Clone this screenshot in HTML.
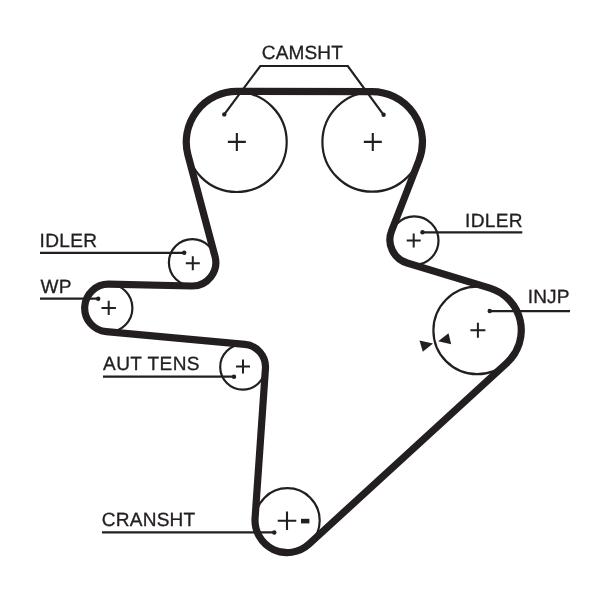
<!DOCTYPE html>
<html><head><meta charset="utf-8"><title>Timing belt diagram</title>
<style>
html,body{margin:0;padding:0;background:#fff;}
body{width:600px;height:589px;position:relative;overflow:hidden;font-family:"Liberation Sans",sans-serif;}
</style></head><body>
<svg width="600" height="589" viewBox="0 0 600 589" style="position:absolute;left:0;top:0;will-change:transform;filter:blur(0.3px);text-rendering:geometricPrecision;font-family:'Liberation Sans',sans-serif">
<circle cx="236.70" cy="142.00" r="50.00" fill="#fff" stroke="#231f20" stroke-width="2.20"/>
<circle cx="372.20" cy="141.90" r="49.80" fill="#fff" stroke="#231f20" stroke-width="2.20"/>
<circle cx="414.30" cy="240.60" r="24.20" fill="#fff" stroke="#231f20" stroke-width="2.20"/>
<circle cx="477.20" cy="330.40" r="43.80" fill="#fff" stroke="#231f20" stroke-width="2.20"/>
<circle cx="287.40" cy="520.50" r="32.30" fill="#fff" stroke="#231f20" stroke-width="2.20"/>
<circle cx="242.80" cy="367.00" r="22.60" fill="#fff" stroke="#231f20" stroke-width="2.20"/>
<circle cx="108.40" cy="308.00" r="24.00" fill="#fff" stroke="#231f20" stroke-width="2.20"/>
<circle cx="192.30" cy="262.50" r="23.40" fill="#fff" stroke="#231f20" stroke-width="2.20"/>
<path d="M236.84 91.45 L372.04 91.55 A50.45 50.45 0 0 1 419.03 160.27 L391.55 231.00 A24.30 24.30 0 0 0 407.17 263.06 L489.96 288.09 A44.10 44.10 0 0 1 506.98 362.83 L308.94 544.15 A32.20 32.20 0 0 1 255.08 518.17 L265.45 368.57 A22.70 22.70 0 0 0 244.87 344.39 L106.23 331.70 A23.80 23.80 0 0 1 108.91 284.21 L191.79 285.99 A23.50 23.50 0 0 0 215.01 256.44 L187.96 155.03 A50.55 50.55 0 0 1 236.84 91.45 Z" fill="none" stroke="#231f20" stroke-width="7.20" stroke-linejoin="round"/>
<path d="M227.85 141.90 H245.85 M236.85 132.90 V150.90" stroke="#231f20" stroke-width="2.10" fill="none"/>
<path d="M363.80 141.90 H381.80 M372.80 132.90 V150.90" stroke="#231f20" stroke-width="2.10" fill="none"/>
<path d="M406.70 240.50 H420.70 M413.70 233.50 V247.50" stroke="#231f20" stroke-width="2.00" fill="none"/>
<path d="M470.40 330.20 H485.40 M477.90 322.70 V337.70" stroke="#231f20" stroke-width="2.00" fill="none"/>
<path d="M277.75 520.70 H296.25 M287.00 511.45 V529.95" stroke="#231f20" stroke-width="2.10" fill="none"/>
<path d="M236.00 366.50 H250.00 M243.00 359.50 V373.50" stroke="#231f20" stroke-width="2.00" fill="none"/>
<path d="M101.50 307.90 H115.90 M108.70 300.70 V315.10" stroke="#231f20" stroke-width="2.00" fill="none"/>
<path d="M185.80 263.20 H199.80 M192.80 256.20 V270.20" stroke="#231f20" stroke-width="2.00" fill="none"/>
<rect x="301" y="518.8" width="8.4" height="4.6" fill="#231f20"/>
<polyline points="224.30,114.40 260.30,66.00 347.80,66.00 383.60,114.80" fill="none" stroke="#231f20" stroke-width="2.20"/>
<circle cx="224.30" cy="114.40" r="2.20" fill="#231f20"/>
<circle cx="383.60" cy="114.80" r="2.20" fill="#231f20"/>
<polyline points="40.00,252.95 184.20,252.95" fill="none" stroke="#231f20" stroke-width="2.20"/>
<circle cx="184.20" cy="252.80" r="2.20" fill="#231f20"/>
<polyline points="40.00,298.70 98.20,298.70" fill="none" stroke="#231f20" stroke-width="2.20"/>
<circle cx="98.20" cy="298.70" r="2.20" fill="#231f20"/>
<polyline points="103.00,376.60 234.00,376.60" fill="none" stroke="#231f20" stroke-width="2.20"/>
<circle cx="234.00" cy="376.70" r="2.20" fill="#231f20"/>
<polyline points="102.00,532.30 274.30,532.30" fill="none" stroke="#231f20" stroke-width="2.20"/>
<circle cx="274.30" cy="532.50" r="2.20" fill="#231f20"/>
<polyline points="422.50,232.30 522.30,232.30" fill="none" stroke="#231f20" stroke-width="2.20"/>
<circle cx="422.50" cy="232.20" r="2.20" fill="#231f20"/>
<polyline points="489.70,311.10 570.00,311.10" fill="none" stroke="#231f20" stroke-width="2.20"/>
<circle cx="489.70" cy="311.00" r="2.20" fill="#231f20"/>
<polygon points="419.5,340.5 433,343.5 422.8,351.8" fill="#231f20"/>
<polygon points="438.2,341.3 448.5,333.2 451.2,344.3" fill="#231f20"/>
<text transform="translate(261.80 59.10) scale(1.0150 1.0200)" font-size="18.80" letter-spacing="0.10" fill="#231f20" stroke="#231f20" stroke-width="0.32" stroke-linejoin="round">CAMSHT</text>
<text transform="translate(39.50 246.50) scale(1.0150 1.0200)" font-size="18.80" letter-spacing="0.35" fill="#231f20" stroke="#231f20" stroke-width="0.32" stroke-linejoin="round">IDLER</text>
<text transform="translate(40.50 292.50) scale(1.0150 1.0200)" font-size="18.80" letter-spacing="0.15" fill="#231f20" stroke="#231f20" stroke-width="0.32" stroke-linejoin="round">WP</text>
<text transform="translate(103.00 369.60) scale(1.0150 1.0200)" font-size="18.80" letter-spacing="0.42" fill="#231f20" stroke="#231f20" stroke-width="0.32" stroke-linejoin="round">AUT TENS</text>
<text transform="translate(101.70 525.60) scale(1.0150 1.0200)" font-size="18.80" letter-spacing="0.23" fill="#231f20" stroke="#231f20" stroke-width="0.32" stroke-linejoin="round">CRANSHT</text>
<text transform="translate(465.10 226.80) scale(1.0150 1.0200)" font-size="18.80" letter-spacing="0.30" fill="#231f20" stroke="#231f20" stroke-width="0.32" stroke-linejoin="round">IDLER</text>
<text transform="translate(527.70 302.50) scale(1.0150 1.0200)" font-size="18.80" letter-spacing="0.15" fill="#231f20" stroke="#231f20" stroke-width="0.32" stroke-linejoin="round">INJP</text>
</svg>

</body></html>
